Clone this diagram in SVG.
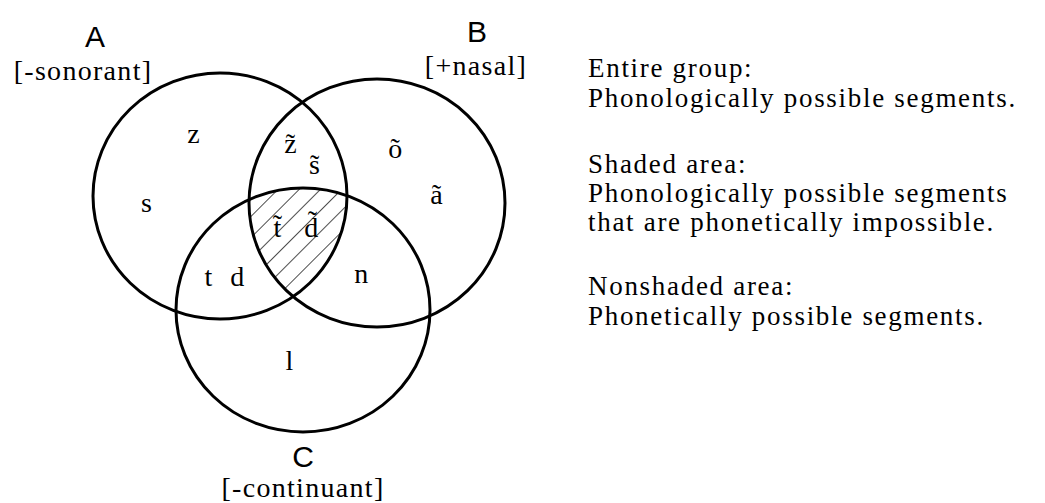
<svg xmlns="http://www.w3.org/2000/svg" width="1045" height="503" viewBox="0 0 1045 503">
<style>
.ring{fill:none;stroke:#000;stroke-width:3}
.cap{font-family:"Liberation Sans",Arial,sans-serif;font-size:30px;fill:#000;text-anchor:middle}
.ser{font-family:"Liberation Serif","Times New Roman",serif;font-size:28px;fill:#000;letter-spacing:1.3px}
.mid{text-anchor:middle}
.leg{font-family:"Liberation Serif","Times New Roman",serif;font-size:27px;fill:#000;letter-spacing:1.7px}
</style>
<defs>
<pattern id="hatch" patternUnits="userSpaceOnUse" width="15" height="15" patternTransform="rotate(45)">
<line x1="0" y1="0" x2="0" y2="15" stroke="#000" stroke-width="1.4"/>
</pattern>
<clipPath id="clipA"><ellipse cx="220" cy="196" rx="127" ry="123"/></clipPath>
<clipPath id="clipB"><ellipse cx="377" cy="203" rx="128" ry="124"/></clipPath>
</defs>
<rect width="1045" height="503" fill="#fff"/>
<g id="shaded" clip-path="url(#clipA)"><g clip-path="url(#clipB)"><ellipse cx="303" cy="310" rx="127" ry="122" fill="url(#hatch)"/></g></g>
<g id="nodeA">
<ellipse class="ring" cx="220" cy="196" rx="127" ry="123"/>
<text class="cap" x="95" y="47">A</text>
<text class="ser mid" x="83" y="80">[-sonorant]</text>
</g>
<g id="nodeB">
<ellipse class="ring" cx="377" cy="203" rx="128" ry="124"/>
<text class="cap" x="477" y="42">B</text>
<text class="ser mid" x="476" y="75">[+nasal]</text>
</g>
<g id="nodeC">
<ellipse class="ring" cx="303" cy="310" rx="127" ry="122"/>
<text class="cap" x="303" y="467">C</text>
<text class="ser mid" x="303" y="497">[-continuant]</text>
</g>
<g id="segments">
<text class="ser mid" x="194" y="143">z</text>
<text class="ser mid" x="147" y="212">s</text>
<text class="ser mid" x="291" y="153">z̃</text>
<text class="ser mid" x="315" y="174">s̃</text>
<text class="ser mid" x="396" y="158">õ</text>
<text class="ser mid" x="437" y="204">ã</text>
<text class="ser mid" x="278" y="237">t̃</text>
<text class="ser mid" x="312" y="237">d̃</text>
<text class="ser mid" x="209" y="286">t</text>
<text class="ser mid" x="238" y="286">d</text>
<text class="ser mid" x="362" y="283">n</text>
<text class="ser mid" x="290" y="370">l</text>
</g>
<g id="legend">
<text class="leg" x="588" y="77">Entire group:</text>
<text class="leg" x="588" y="107">Phonologically possible segments.</text>
<text class="leg" x="588" y="173">Shaded area:</text>
<text class="leg" x="588" y="202">Phonologically possible segments</text>
<text class="leg" x="588" y="231">that are phonetically impossible.</text>
<text class="leg" x="588" y="295">Nonshaded area:</text>
<text class="leg" x="588" y="325">Phonetically possible segments.</text>
</g>
</svg>
